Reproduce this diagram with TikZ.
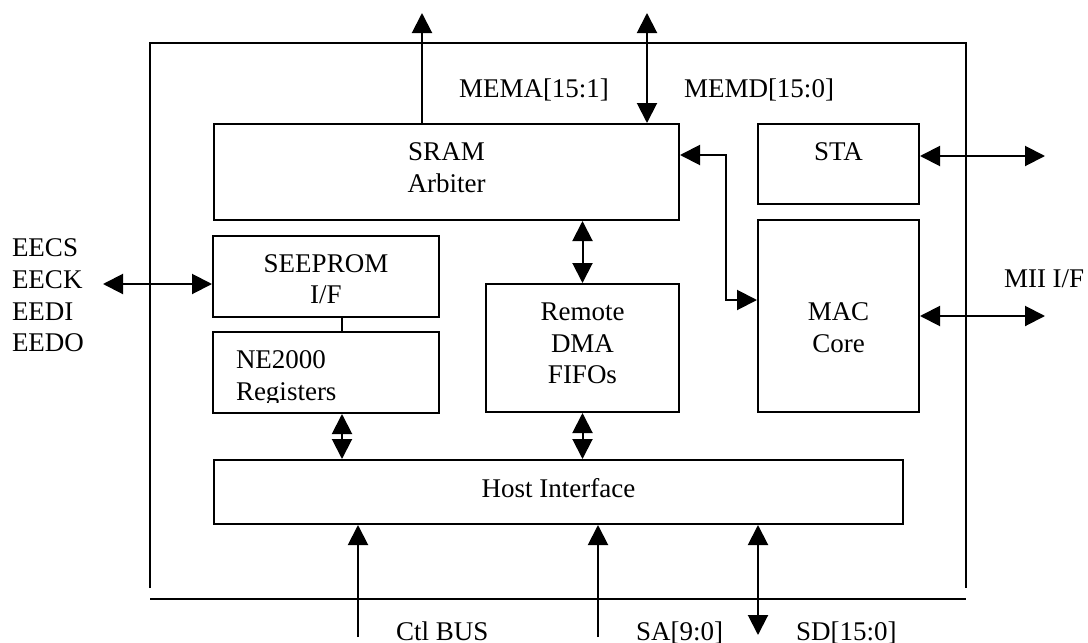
\documentclass[tikz,border=0pt]{standalone}
\usepackage{fontspec}
\setmainfont{Liberation Serif}
\usetikzlibrary{arrows.meta,fit}
\tikzset{
  blk/.style={draw, inner sep=0pt, line width=1pt},
  txt/.style={inner sep=0pt, font=\fontsize{13.5}{16}\selectfont},
  sarr/.style={-{Triangle[length=10pt,width=10pt]}},
  darr/.style={{Triangle[length=10pt,width=10pt]}-{Triangle[length=10pt,width=10pt]}}
}
\begin{document}
\begin{tikzpicture}[x=0.5pt,y=-0.5pt,line width=1pt]
\useasboundingbox (0,0) rectangle (1088,643);
% outer frame
\coordinate (fbl) at (150,588);
\coordinate (ftl) at (150,43);
\coordinate (ftr) at (966,43);
\coordinate (fbr) at (966,588);
\coordinate (bl) at (150,599);
\coordinate (br) at (966,599);
\draw (fbl) -- (ftl) -- (ftr) -- (fbr);
\draw (bl) -- (br);
% blocks
\node[blk, fit={(214,124) (679,220)}] (sram) {};
\node[blk, fit={(758,124) (919,204)}] (sta) {};
\node[blk, fit={(758,220) (919,412)}] (mac) {};
\node[blk, fit={(213,236) (439,317)}] (seeprom) {};
\node[blk, fit={(213,332) (439,413)}] (ne) {};
\node[blk, fit={(486,284) (679,412)}] (remote) {};
\node[blk, fit={(214,460) (903,524)}] (host) {};
% block texts
\node[txt, anchor=base] (tsram1) at (446.5,160) {SRAM};
\node[txt, anchor=base] (tsram2) at (446.5,192) {Arbiter};
\node[txt, anchor=base] (tsta) at (838.5,160) {STA};
\node[txt, anchor=base] (tmac1) at (838.5,320) {MAC};
\node[txt, anchor=base] (tmac2) at (838.5,352) {Core};
\node[txt, anchor=base] (tsee1) at (326,272) {SEEPROM};
\node[txt, anchor=base] (tsee2) at (326,303) {I/F};
\node[txt, anchor=base] (trem1) at (582.5,320) {Remote};
\node[txt, anchor=base] (trem2) at (582.5,352) {DMA};
\node[txt, anchor=base] (trem3) at (582.5,383) {FIFOs};
\node[txt, anchor=base] (thost) at (558.5,497) {Host Interface};
\begin{scope}
\clip (215,334) rectangle (437,402);
\node[txt, anchor=base west] (tne1) at (235,368) {NE2000};
\node[txt, anchor=base west] (tne2) at (235,400) {Registers};
\end{scope}
% outside labels
\node[txt, anchor=base west] (lmema) at (458,97) {MEMA[15:1]};
\node[txt, anchor=base west] (lmemd) at (683,97) {MEMD[15:0]};
\node[txt, anchor=base west] (lmii) at (1003,287) {MII I/F};
\node[txt, anchor=base west] (lee1) at (11,256) {EECS};
\node[txt, anchor=base west] (lee2) at (11,288) {EECK};
\node[txt, anchor=base west] (lee3) at (11,320) {EEDI};
\node[txt, anchor=base west] (lee4) at (11,351) {EEDO};
\node[txt, anchor=base west] (lctl) at (395,640) {Ctl BUS};
\node[txt, anchor=base west] (lsa) at (635,640) {SA[9:0]};
\node[txt, anchor=base west] (lsd) at (795,640) {SD[15:0]};
% free ends
\coordinate (memaTip) at (422,13);
\coordinate (memdTip) at (647,13);
\coordinate (staTip) at (1045,156);
\coordinate (macTip) at (1045,316);
\coordinate (eeTip) at (103,284);
\coordinate (elb1) at (726,155);
\coordinate (elb2) at (726,300);
\coordinate (ctlEnd) at (358,637);
\coordinate (saEnd) at (598,637);
\coordinate (sdEnd) at (758,635);
% connectors
\draw[sarr] (sram.north -| memaTip) -- (memaTip);
\draw[darr] (sram.north -| memdTip) -- (memdTip);
\draw[darr] (sram.east |- elb1) -- (elb1) -- (elb2) -- (mac.west |- elb2);
\draw[darr] (sta.east |- staTip) -- (staTip);
\draw[darr] (mac.east |- macTip) -- (macTip);
\draw[darr] (eeTip) -- (seeprom.west |- eeTip);
\draw ([xshift=8pt]seeprom.south) -- ([xshift=8pt]ne.north);
\draw[darr] ([xshift=8pt]ne.south) -- ([xshift=8pt]ne.south |- host.north);
\draw[darr] (remote.north) -- (remote.north |- sram.south);
\draw[darr] (remote.south) -- (remote.south |- host.north);
\draw[sarr] (ctlEnd) -- (ctlEnd |- host.south);
\draw[sarr] (saEnd) -- (saEnd |- host.south);
\draw[darr] (sdEnd |- host.south) -- (sdEnd);
\end{tikzpicture}
\end{document}
